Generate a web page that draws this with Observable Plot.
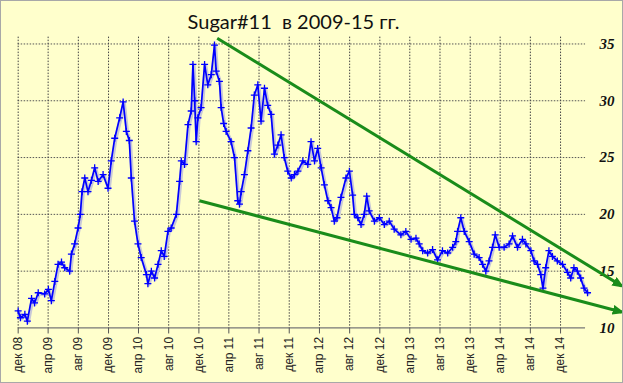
<!DOCTYPE html>
<html>
<head>
<meta charset="utf-8">
<script src="https://cdn.jsdelivr.net/npm/d3@7"></script>
<script src="https://cdn.jsdelivr.net/npm/@observablehq/plot@0.6"></script>
<style>
  html, body { margin: 0; padding: 0; background: #fff; }
  #wrap { position: relative; width: 623px; height: 383px; box-sizing: border-box; border: 1px solid #a8a8a8; background: #FFFFCC; overflow: hidden; }
  #title { position: absolute; left: 0; top: 10px; width: 585px; text-align: center; font-family: Lato, "Open Sans", sans-serif; font-size: 20px; line-height: 20px; color: #111; white-space: pre; }
  #chart { position: absolute; left: -1px; top: -1px; }
</style>
</head>
<body>
<div id="wrap">
  <div id="chart"></div>
  <div id="title">Sugar#11  в 2009-15 гг.</div>
</div>
<script>
const dates = ["2008-12-01","2008-12-10","2008-12-28","2009-01-07","2009-01-24","2009-02-05","2009-02-20","2009-03-18","2009-04-02","2009-04-14","2009-04-28","2009-05-11","2009-05-25","2009-06-07","2009-06-27","2009-07-04","2009-07-17","2009-07-31","2009-08-09","2009-08-16","2009-08-27","2009-09-09","2009-09-23","2009-10-06","2009-10-20","2009-11-09","2009-11-29","2009-12-12","2009-12-26","2010-01-15","2010-01-29","2010-02-11","2010-02-23","2010-03-03","2010-03-16","2010-03-30","2010-04-12","2010-05-03","2010-05-09","2010-05-23","2010-06-05","2010-06-19","2010-07-02","2010-07-14","2010-07-29","2010-08-11","2010-09-01","2010-09-14","2010-09-21","2010-10-04","2010-10-18","2010-10-31","2010-11-07","2010-11-14","2010-11-20","2010-11-27","2010-12-10","2010-12-24","2011-01-06","2011-01-20","2011-02-02","2011-02-09","2011-02-22","2011-03-01","2011-03-11","2011-03-21","2011-04-10","2011-04-24","2011-05-07","2011-05-14","2011-05-21","2011-06-03","2011-06-17","2011-06-30","2011-07-13","2011-07-27","2011-08-09","2011-08-23","2011-09-05","2011-09-19","2011-10-02","2011-10-16","2011-10-29","2011-11-11","2011-11-25","2011-12-09","2011-12-22","2012-01-05","2012-01-25","2012-02-14","2012-02-27","2012-03-12","2012-03-25","2012-04-08","2012-04-21","2012-05-05","2012-05-18","2012-05-31","2012-06-11","2012-06-27","2012-07-17","2012-07-31","2012-08-13","2012-08-20","2012-09-03","2012-09-16","2012-09-29","2012-10-09","2012-10-19","2012-11-09","2012-11-29","2012-12-19","2013-01-08","2013-01-28","2013-02-24","2013-03-16","2013-04-06","2013-04-26","2013-05-09","2013-05-23","2013-06-12","2013-07-02","2013-07-22","2013-08-11","2013-09-01","2013-09-21","2013-10-04","2013-10-11","2013-10-24","2013-11-07","2013-11-27","2013-12-17","2014-01-06","2014-01-20","2014-02-02","2014-02-15","2014-03-01","2014-03-12","2014-03-28","2014-04-17","2014-05-07","2014-05-21","2014-06-10","2014-06-30","2014-07-14","2014-08-03","2014-08-16","2014-08-30","2014-09-12","2014-09-21","2014-10-02","2014-10-15","2014-10-29","2014-11-18","2014-12-09","2014-12-29","2015-01-11","2015-01-24","2015-02-07","2015-02-20","2015-03-06","2015-03-20"];
const prices = [11.5,10.9,11.2,10.6,12.6,12.2,13.1,13.0,13.4,12.4,14.1,15.6,15.8,15.3,15.0,16.5,17.4,18.8,20.0,22.0,23.2,22.0,23.0,24.1,22.9,23.5,22.3,24.7,26.7,28.5,29.9,27.3,26.5,23.2,19.4,17.4,16.2,14.7,13.9,15.0,14.4,15.6,16.8,16.3,18.5,18.8,20.0,22.9,24.7,24.4,27.9,29.1,33.2,30.0,26.4,28.5,29.4,33.2,31.4,32.3,34.9,32.6,31.7,29.4,28.0,27.3,26.4,25.0,21.2,20.9,22.0,23.5,25.6,27.6,30.5,31.4,28.2,31.1,29.6,28.8,25.3,26.1,27.0,25.0,23.8,23.2,23.5,23.8,24.7,24.4,26.4,24.7,25.8,24.1,22.6,21.2,20.6,19.4,19.7,21.5,23.2,23.8,21.7,20.0,19.7,19.1,20.0,21.6,20.3,19.4,19.7,19.1,19.4,18.7,18.2,18.5,17.8,17.9,17.4,16.8,16.6,16.9,16.0,16.8,16.6,17.1,17.6,18.5,19.7,18.5,17.6,16.5,16.2,15.6,15.0,15.9,17.1,18.2,17.1,17.1,17.4,18.1,17.1,17.8,17.4,16.8,15.9,15.6,14.7,13.5,15.3,16.8,16.3,15.9,15.6,14.9,14.4,15.3,15.0,14.4,13.5,13.1];

const tickDates = ["2008-12-01","2009-04-01","2009-08-01","2009-12-01","2010-04-01","2010-08-01","2010-12-01","2011-04-01","2011-08-01","2011-12-01","2012-04-01","2012-08-01","2012-12-01","2013-04-01","2013-08-01","2013-12-01","2014-04-01","2014-08-01","2014-12-01"];
const tickLabels = ["дек 08","апр 09","авг 09","дек 09","апр 10","авг 10","дек 10","апр 11","авг 11","дек 11","апр 12","авг 12","дек 12","апр 13","авг 13","дек 13","апр 14","авг 14","дек 14"];
const yTicks = [10, 15, 20, 25, 30, 35];

const trendTopDates = ["2011-02-13", "2015-08-05"];
const trendTopValues = [35.5, 13.7];
const trendBottomDates = ["2010-12-03", "2015-08-05"];
const trendBottomValues = [21.2, 11.4];

const series = dates.map((d, i) => ({date: new Date(d), price: prices[i]}));
const ticks = tickDates.map(d => new Date(d));
const labelMap = new Map(ticks.map((d, i) => [+d, tickLabels[i]]));
const trends = [
  {x1: new Date(trendTopDates[0]), y1: trendTopValues[0], x2: new Date(trendTopDates[1]), y2: trendTopValues[1]},
  {x1: new Date(trendBottomDates[0]), y1: trendBottomValues[0], x2: new Date(trendBottomDates[1]), y2: trendBottomValues[1]}
];
const green = "#1a8c1a";

const chart = Plot.plot({
  width: 623,
  height: 383,
  marginTop: 36.7,
  marginBottom: 55,
  marginLeft: 17.7,
  marginRight: 37,
  style: {background: "transparent", fontFamily: "Liberation Sans, Arial, sans-serif", fontSize: "12px", color: "#222"},
  x: {type: "utc", domain: [new Date("2008-12-01"), new Date("2015-03-12")]},
  y: {domain: [10, 35.6]},
  marks: [
    Plot.ruleY(yTicks.slice(1), {stroke: "#555", strokeWidth: 1, strokeDasharray: "1.5,1.5"}),
    Plot.ruleX(ticks, {stroke: "#444", strokeWidth: 1, strokeDasharray: "1.5,1.5"}),
    Plot.ruleY([10], {stroke: "#777", strokeWidth: 1.2}),
    Plot.axisX({ticks: ticks, tickFormat: d => labelMap.get(+d), tickRotate: -90, tickSize: 6, tickPadding: 3, stroke: "#555", label: null}),
    Plot.axisY({anchor: "right", ticks: yTicks, tickSize: 0, tickPadding: 14, label: null}),
    Plot.line(series, {x: "date", y: "price", stroke: "#c8c8d8", strokeWidth: 3.5, dx: 1, dy: 1}),
    Plot.line(series, {x: "date", y: "price", stroke: "#0000ff", strokeWidth: 1.7}),
    Plot.dot(series, {x: "date", y: "price", symbol: "plus", r: 2.4, stroke: "#0000ff", strokeWidth: 1.3}),
    Plot.link(trends, {x1: "x1", y1: "y1", x2: "x2", y2: "y2", stroke: green, strokeWidth: 3})
  ]
});

// filled triangular arrowheads on the trend lines
const svg = d3.select(chart);
const defs = svg.insert("defs", ":first-child");
defs.append("marker")
  .attr("id", "trend-head")
  .attr("viewBox", "0 0 12 10")
  .attr("refX", 9)
  .attr("refY", 5)
  .attr("markerWidth", 12)
  .attr("markerHeight", 10)
  .attr("markerUnits", "userSpaceOnUse")
  .attr("orient", "auto")
  .append("path")
  .attr("d", "M0,0L12,5L0,10Z")
  .attr("fill", green);
svg.selectAll('g[aria-label="link"] path').attr("marker-end", "url(#trend-head)");

svg.selectAll('g[aria-label="y-axis tick label"]')
  .attr("font-family", "Liberation Serif, Times New Roman, serif")
  .attr("font-style", "italic")
  .attr("font-weight", "bold")
  .attr("font-size", 15)
  .attr("text-anchor", "start")
  .attr("fill", "#111");
svg.selectAll('g[aria-label="x-axis tick label"]')
  .attr("font-size", 12)
  .attr("fill", "#222");

document.getElementById("chart").appendChild(chart);
</script>
</body>
</html>
